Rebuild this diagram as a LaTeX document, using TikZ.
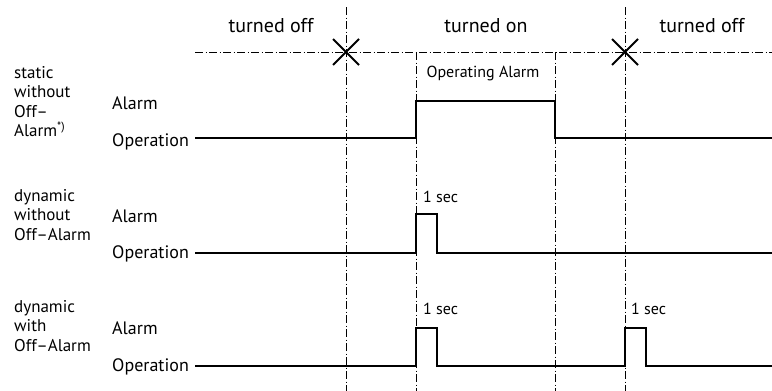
\documentclass[tikz,border=0pt]{standalone}
\usepackage{fontspec}
\setmainfont{PT Sans}
\usetikzlibrary{shapes.misc}
\begin{document}
\begin{tikzpicture}[x=1pt,y=-1pt,
  dashdot/.style={line width=0.8pt, dash pattern=on 8pt off 2.5pt on 1pt off 2.5pt},
  sig/.style={line width=2pt, line join=miter},
  head/.style={font=\fontsize{20}{20}\selectfont, inner sep=0, anchor=base},
  rowlbl/.style={font=\fontsize{18}{18}\selectfont, anchor=base west, inner sep=0},
  grp/.style={font=\fontsize{17}{19.5}\selectfont, anchor=north west, align=left, inner sep=0},
  small/.style={font=\fontsize{16}{16}\selectfont, inner sep=0},
  xmark/.style={draw, cross out, line width=2pt, minimum size=24pt, inner sep=0}]
\useasboundingbox (0,0) rectangle (772,391);
% grid of phases
\coordinate (v1t) at (346,7);   \coordinate (v1b) at (346,391);
\coordinate (v2t) at (416,52);  \coordinate (v2b) at (416,391);
\coordinate (v3t) at (555,52);  \coordinate (v3b) at (555,391);
\coordinate (v4t) at (625,7);   \coordinate (v4b) at (625,391);
\coordinate (hl) at (195,52);   \coordinate (hr) at (772,52);
\draw[dashdot] (v1t) -- (v1b);
\draw[dashdot] (v2t) -- (v2b);
\draw[dashdot] (v3t) -- (v3b);
\draw[dashdot] (v4t) -- (v4b);
\draw[dashdot] (hl) -- (hr);
\node[xmark] (x1) at (346,52) {};
\node[xmark] (x2) at (625,52) {};
% headings
\node[head] (h1) at (271,32) {turned off};
\node[head] (h2) at (486,32) {turned on};
\node[head] (h3) at (702,32) {turned off};
\node[small, anchor=base] (oa) at (483,77) {Operating Alarm};
% group labels
\node[grp] (g1) at (14,66) {static\\without\\Off–\\Alarm\textsuperscript{*)}};
\node[grp] (g2) at (14,189) {dynamic\\without\\Off–Alarm};
\node[grp] (g3) at (14,300) {dynamic\\with\\Off–Alarm};
% row labels
\node[rowlbl] (a1) at (112,109) {Alarm};
\node[rowlbl] (o1) at (112,146) {Operation};
\node[rowlbl] (a2) at (112,222) {Alarm};
\node[rowlbl] (o2) at (112,258) {Operation};
\node[rowlbl] (a3) at (112,334) {Alarm};
\node[rowlbl] (o3) at (112,371) {Operation};
% pulse labels
\node[small, anchor=base west] (s1) at (423,202) {1 sec};
\node[small, anchor=base west] (s2) at (423,314) {1 sec};
\node[small, anchor=base west] (s3) at (631,314) {1 sec};
% signals
\coordinate (e1) at (772,138);
\coordinate (e2) at (772,253);
\coordinate (e3) at (772,366);
\draw[sig] (195,138) -- (416,138) -- (416,101) -- (555,101) -- (555,138) -- (e1);
\draw[sig] (195,253) -- (416,253) -- (416,214) -- (437,214) -- (437,253) -- (e2);
\draw[sig] (195,366) -- (416,366) -- (416,328) -- (437,328) -- (437,366)
  -- (625,366) -- (625,328) -- (646,328) -- (646,366) -- (e3);
\end{tikzpicture}
\end{document}
